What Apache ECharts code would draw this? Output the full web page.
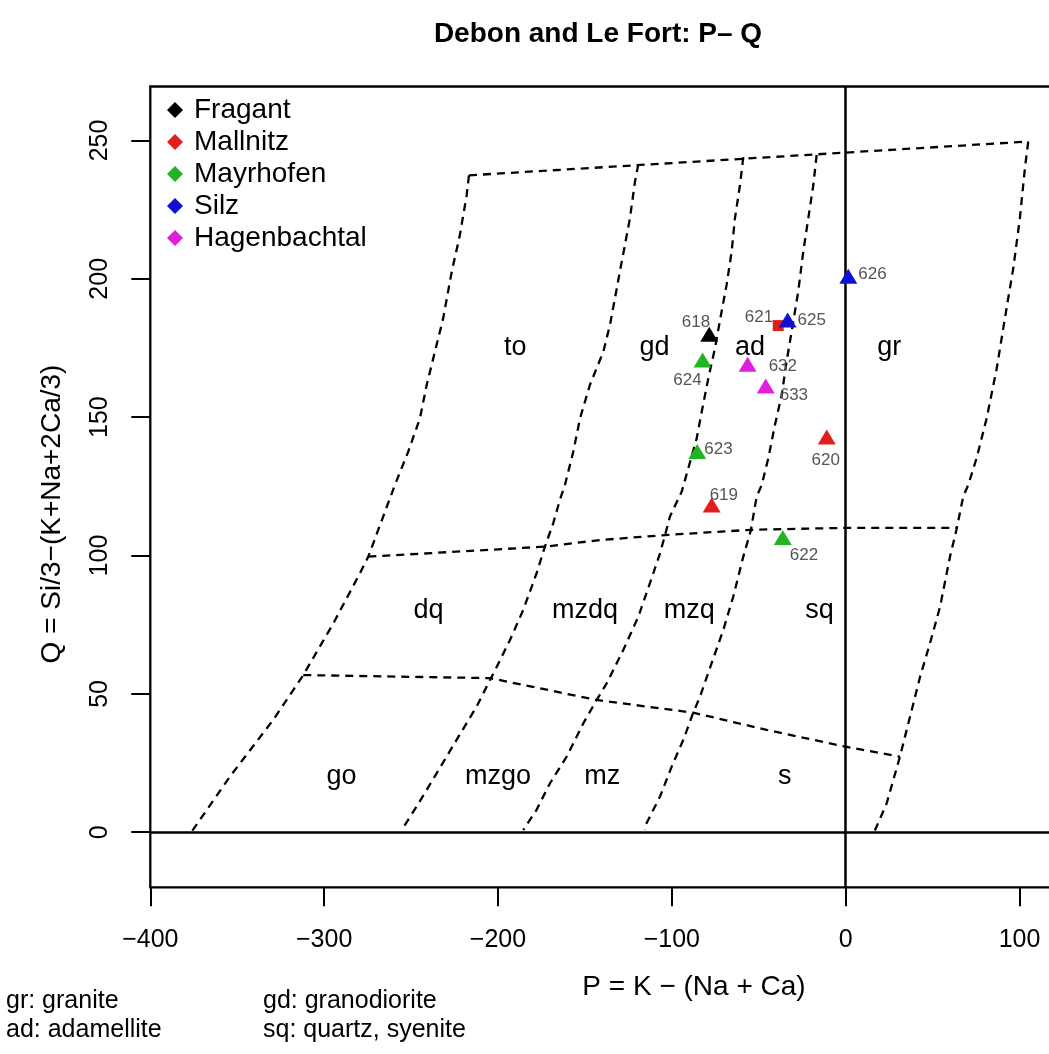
<!DOCTYPE html>
<html>
<head>
<meta charset="utf-8">
<title>Debon and Le Fort: P-Q</title>
<script src="https://cdn.jsdelivr.net/npm/echarts@6/dist/echarts.min.js"></script>
<style>
	html, body { margin: 0; padding: 0; background: #fff; }
	#chart { width: 1049px; height: 1054px; }
</style>
</head>
<body>
<div id="chart"></div>
<script>
var FONT = '"Liberation Sans", Arial, Helvetica, sans-serif';

// samples
var groupNames = ['Fragant', 'Mallnitz', 'Mayrhofen', 'Silz', 'Hagenbachtal'];
var sampleIds = ['618', '619', '620', '621', '622', '623', '624', '625', '626', '632', '633'];
var sampleGroup = ['Fragant', 'Mallnitz', 'Mallnitz', 'Mallnitz', 'Mayrhofen', 'Mayrhofen', 'Mayrhofen', 'Silz', 'Silz', 'Hagenbachtal', 'Hagenbachtal'];
var sampleP = [-78.5, -77.1, -10.9, -38.8, -36.2, -85.4, -82.3, -33.4, 1.5, -56.4, -46.0];
var sampleQ = [180.0, 118.3, 142.8, 183.1, 106.5, 137.6, 170.7, 185.1, 200.9, 169.1, 161.3];

// field names and where they sit
var fieldNames = ['to', 'gd', 'ad', 'gr', 'dq', 'mzdq', 'mzq', 'sq', 'go', 'mzgo', 'mz', 's'];
var fieldP = [-190, -110, -55, 25, -240, -150, -90, -15, -290, -200, -140, -35];
var fieldQ = [175, 175, 175, 175, 80, 80, 80, 80, 20, 20, 20, 20];

// field boundaries [P, Q]
var lineLeft = [[-216.7, 237.4], [-218, 230.3], [-221.9, 215.9], [-226.6, 202.6], [-231.5, 185.8], [-241, 161.7], [-244.9, 149.6], [-251.6, 137.6], [-259.3, 125.5], [-274.6, 99.6], [-279.4, 93.6], [-294.7, 75.5], [-312, 56.8], [-329.3, 40.6], [-354.2, 20.1], [-376.2, 0.2]];
var lineB = [[-119.3, 241.4], [-121.2, 235.1], [-124.1, 221.9], [-127, 212.2], [-129.9, 202.6], [-132.7, 193], [-135.6, 183.3], [-139.4, 173.7], [-147.1, 161.7], [-152.8, 149.6], [-156.7, 137.5], [-161.5, 125.5], [-164.4, 120.1], [-168.2, 111.7], [-173, 103.2], [-177.8, 93.6], [-185.5, 80.3], [-193.1, 69.5], [-200.7, 59.8], [-204.6, 55], [-212.3, 45.4], [-223.8, 33.4], [-235.3, 21.3], [-246.8, 9.3], [-255.4, 0.8]];
var lineC = [[-58.9, 244], [-60.8, 233.9], [-63.7, 221.9], [-65.6, 209.8], [-68.5, 197.8], [-71.4, 188.1], [-75.2, 174.9], [-79, 164.1], [-82.8, 152], [-85.7, 142.4], [-90.5, 131.6], [-94.3, 123.1], [-101.1, 114.1], [-103.9, 107.4], [-106.8, 100.8], [-112.6, 90], [-119.3, 77.9], [-127.9, 65.9], [-137.5, 53.8], [-143.2, 47.8], [-150.9, 39.4], [-160.5, 27.3], [-170.1, 17.7], [-177.8, 8.1], [-185.5, 0.8]];
var lineD = [[-16.7, 244.8], [-18.6, 233.9], [-21.5, 221.9], [-24.4, 209.8], [-27.3, 195.4], [-31.1, 180.9], [-34, 170.1], [-36.8, 158], [-40.7, 147.2], [-44.5, 135.2], [-48.3, 125.5], [-51.2, 121.3], [-54.6, 109], [-58.9, 99.6], [-64.7, 85.1], [-70.4, 73.1], [-77.1, 61.1], [-83.8, 49], [-87.7, 43.2], [-93.4, 33.4], [-100.1, 23.7], [-106.8, 12.9], [-114.5, 3.3], [-115.4, 0.8]];
var lineRight = [[105, 249.6], [103.1, 240], [100.2, 221.9], [96.4, 203.8], [91.6, 185.8], [86.9, 167.7], [81.1, 149.6], [75.3, 135.2], [70.5, 125.5], [67.6, 121.3], [63.8, 109.5], [60, 99.6], [54.3, 81.5], [48.5, 68.3], [42.8, 56.2], [38, 44.2], [31.2, 27.3], [23.6, 10.5], [16.8, 0.6]];
var lineTop = [[-216.7, 237.4], [105, 249.6]];
var lineMid = [[-274.6, 99.6], [-173, 103.2], [-141.4, 105.6], [-103.9, 107.4], [-54.6, 109.3], [0, 110], [63.8, 110]];
var lineLow = [[-312, 56.8], [-204.6, 55.7], [-143.2, 47.8], [-87.7, 43.2], [-45.5, 37], [0, 30.9], [31.2, 27.3]];

var xTicks = [-400, -300, -200, -100, 0, 100];
var yTicks = [0, 50, 100, 150, 200, 250];

var groupColors = {
	'Fragant': '#000000',
	'Mallnitz': '#e01e1e',
	'Mayrhofen': '#22b422',
	'Silz': '#1010d2',
	'Hagenbachtal': '#e01ee0'
};

// label offsets of the sample numbers (px from the marker centre)
var sampleLabel = {
	'618': {dx: 1, dy: -12, align: 'right'},
	'619': {dx: -2, dy: -10, align: 'left'},
	'620': {dx: -1, dy: 23, align: 'center'},
	'621': {dx: -5, dy: -8, align: 'right'},
	'622': {dx: 7, dy: 18, align: 'left'},
	'623': {dx: 7, dy: -2, align: 'left'},
	'624': {dx: -1, dy: 20, align: 'right'},
	'625': {dx: 10, dy: 0, align: 'left'},
	'626': {dx: 10, dy: -2, align: 'left'},
	'632': {dx: 21, dy: 2, align: 'left'},
	'633': {dx: 14, dy: 9, align: 'left'}
};

var fmtMinus = function(v){
	return v < 0 ? '\u2212' + (-v) : String(v);
};

var series = [];

var boundaries = [lineLeft, lineB, lineC, lineD, lineRight, lineTop, lineMid, lineLow];
boundaries.forEach(function(pts, idx){
	var s = {
		type: 'line',
		data: pts,
		symbol: 'none',
		silent: true,
		z: 2,
		lineStyle: {color: '#000', width: 2.3, type: [8, 6]}
	};
	if (idx == 0) {
		// the P = 0 and Q = 0 lines
		s.markLine = {
			silent: true,
			symbol: ['none', 'none'],
			label: {show: false},
			lineStyle: {type: 'solid', color: '#000', width: 2.5},
			data: [{xAxis: 0}, {yAxis: 0}]
		};
	}
	series.push(s);
});

// field names
series.push({
	type: 'scatter',
	silent: true,
	symbolSize: 1,
	itemStyle: {opacity: 0},
	z: 3,
	label: {
		show: true,
		position: 'inside',
		formatter: '{b}',
		color: '#000',
		opacity: 1,
		textBorderWidth: 0,
		fontSize: 27,
		fontFamily: FONT
	},
	data: fieldNames.map(function(n, i){
		return {name: n, value: [fieldP[i], fieldQ[i]]};
	})
});

// samples, one series per locality
groupNames.forEach(function(g){
	var data = [];
	sampleIds.forEach(function(id, i){
		if (sampleGroup[i] != g) return;
		var ls = sampleLabel[id];
		var isSquare = (id == '621');
		data.push({
			name: id,
			value: [sampleP[i], sampleQ[i]],
			symbol: isSquare ? 'rect' : 'triangle',
			symbolSize: isSquare ? 11 : [18, 15],
			label: {
				show: true,
				position: 'inside',
				offset: [ls.dx, ls.dy],
				align: ls.align,
				verticalAlign: 'middle'
			}
		});
	});
	series.push({
		type: 'scatter',
		name: g,
		z: 5,
		itemStyle: {color: groupColors[g], opacity: 1},
		label: {
			formatter: '{b}',
			color: '#555',
			textBorderWidth: 0,
			fontSize: 17,
			fontFamily: FONT
		},
		data: data
	});
});

var txt = function(x, y, text, opt){
	opt = opt || {};
	return {
		type: 'text',
		x: x,
		y: y,
		rotation: opt.rotation || 0,
		silent: true,
		style: {
			text: text,
			font: (opt.size || 25) + 'px ' + FONT,
			fill: '#000',
			textAlign: opt.align || 'left',
			textVerticalAlign: 'middle'
		}
	};
};

var option = {
	animation: false,
	backgroundColor: '#fff',
	title: {
		text: 'Debon and Le Fort: P\u2013 Q',
		left: 593,
		top: 15,
		textAlign: 'center',
		textStyle: {fontSize: 28, fontWeight: 'bold', color: '#000', fontFamily: FONT}
	},
	legend: {
		orient: 'vertical',
		left: 162,
		top: 89,
		icon: 'diamond',
		itemWidth: 16,
		itemHeight: 16,
		itemGap: 0,
		selectedMode: false,
		textStyle: {fontSize: 28, lineHeight: 32, color: '#000', fontFamily: FONT, padding: [0, 0, 0, 6]},
		data: groupNames
	},
	grid: {
		left: 150.3,
		top: 86.5,
		width: 904,
		height: 800.8,
		outerBoundsMode: 'none',
		show: true,
		borderColor: '#000',
		borderWidth: 2.3,
		backgroundColor: 'transparent'
	},
	xAxis: {
		type: 'value',
		min: -400,
		max: 120,
		splitLine: {show: false},
		axisLine: {show: false, onZero: false},
		axisTick: {show: true, length: 19, lineStyle: {color: '#000', width: 2}, customValues: xTicks},
		axisLabel: {customValues: xTicks, fontSize: 25, color: '#000', margin: 40, fontFamily: FONT, formatter: fmtMinus}
	},
	yAxis: {
		type: 'value',
		min: -19.9,
		max: 269.5,
		splitLine: {show: false},
		axisLine: {show: false, onZero: false},
		axisTick: {show: true, length: 19, lineStyle: {color: '#000', width: 2}, customValues: yTicks},
		axisLabel: {customValues: yTicks, rotate: 90, fontSize: 25, color: '#000', margin: 38, fontFamily: FONT}
	},
	graphic: [
		txt(52, 514, 'Q = Si/3\u2212(K+Na+2Ca/3)', {rotation: Math.PI / 2, align: 'center', size: 28}),
		txt(694, 987, 'P = K \u2212 (Na + Ca)', {align: 'center', size: 28}),
		txt(6, 1001, 'gr: granite'),
		txt(6, 1030, 'ad: adamellite'),
		txt(263, 1001, 'gd: granodiorite'),
		txt(263, 1030, 'sq: quartz, syenite')
	],
	series: series
};

var chart = echarts.init(document.getElementById('chart'));
chart.setOption(option);
</script>
</body>
</html>
